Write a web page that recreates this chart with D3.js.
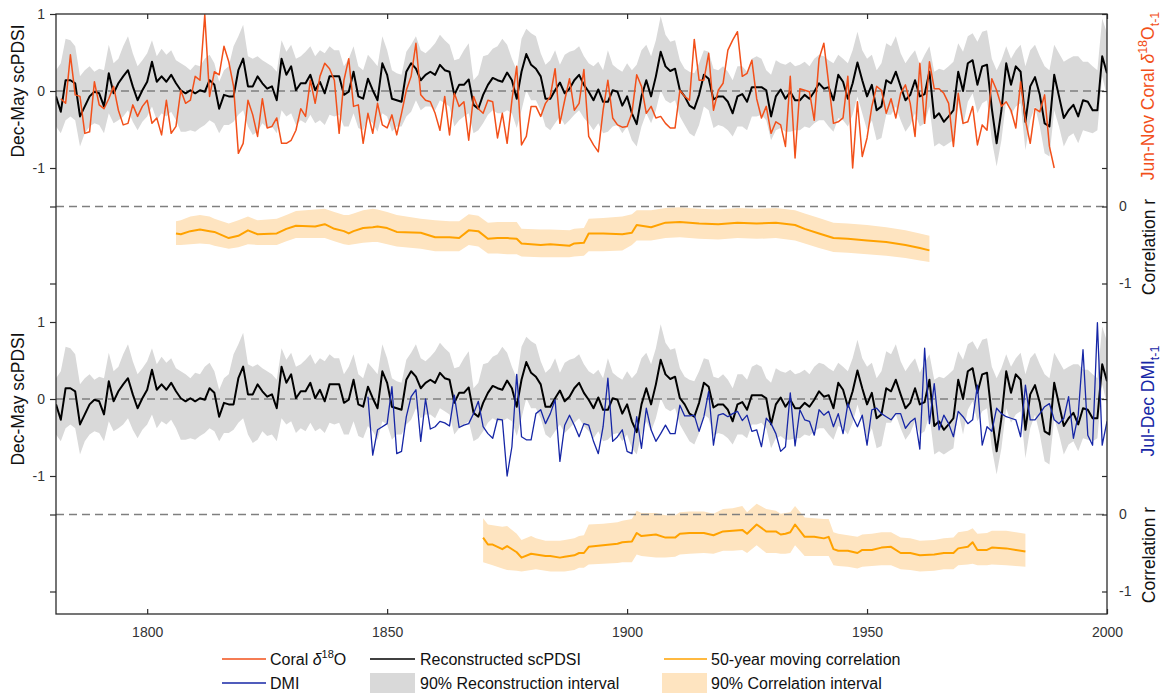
<!DOCTYPE html>
<html><head><meta charset="utf-8">
<script src="https://cdn.jsdelivr.net/npm/d3@7"></script>
<style>body{margin:0;background:#fff;} svg{display:block;font-family:'Liberation Sans',Arial,sans-serif;}</style>
</head><body><svg id="c" width="1164" height="695"></svg>
<script>
// ---------------- DATA ----------------
const scpdsiStart = 1781;
const scpdsi = [
-0.07,-0.27,0.14,0.14,0.10,-0.33,-0.20,-0.07,-0.01,-0.03,
-0.20,0.23,-0.03,0.10,0.19,0.27,0.06,-0.12,0.01,0.12,
0.38,0.12,0.19,0.12,0.21,0.10,0.01,-0.03,0.01,-0.03,
0.01,-0.01,0.14,0.08,-0.23,-0.05,-0.07,-0.07,0.27,0.42,
0.06,0.06,0.19,0.10,0.03,0.06,-0.12,0.42,0.21,0.32,
0.01,0.10,0.10,0.21,0.01,0.12,-0.03,0.19,0.19,0.19,
-0.05,-0.01,0.25,-0.07,-0.10,0.16,0.01,-0.12,0.36,0.21,
-0.10,-0.12,-0.14,0.25,0.36,0.29,0.14,0.21,0.25,0.21,
0.34,0.27,0.25,-0.05,0.08,0.08,0.15,-0.18,-0.23,-0.05,
0.08,0.17,0.14,0.12,0.24,0.14,-0.10,0.25,0.48,0.34,
0.29,0.19,-0.10,-0.10,0.01,0.11,-0.03,0.03,0.14,0.21,
0.08,-0.01,-0.12,0.02,-0.14,-0.14,0.01,-0.01,-0.19,-0.07,
-0.29,-0.43,-0.07,0.14,-0.07,0.19,0.51,0.32,0.26,0.29,
0.01,-0.07,-0.19,-0.23,-0.05,0.21,0.16,-0.11,-0.07,-0.07,
-0.14,-0.29,-0.07,-0.04,-0.14,0.05,0.05,0.05,0.01,-0.33,
-0.07,0.02,-0.10,-0.01,-0.12,-0.12,-0.05,-0.10,-0.01,0.10,
0.03,0.05,-0.12,0.21,0.12,-0.10,0.10,0.37,0.14,-0.07,
0.08,-0.25,-0.20,0.14,0.10,0.25,0.06,-0.12,-0.05,0.14,
-0.07,-0.04,0.25,-0.35,-0.29,-0.40,-0.33,-0.25,0.25,0.00,
0.36,0.40,0.08,0.32,0.34,-0.23,-0.68,-0.25,0.36,0.08,
0.32,0.25,-0.40,0.06,0.18,-0.05,-0.42,-0.46,0.21,-0.07,
-0.35,-0.25,-0.18,-0.33,-0.12,-0.14,-0.25,-0.25,0.45,0.23];
const reconUpper = [
0.27,0.36,0.68,0.66,0.58,0.19,0.27,0.32,0.25,0.29,
0.27,0.60,0.36,0.42,0.58,0.71,0.49,0.32,0.40,0.49,
0.66,0.45,0.55,0.47,0.53,0.40,0.36,0.32,0.27,0.34,
0.32,0.42,0.47,0.36,0.12,0.27,0.32,0.58,0.71,0.86,
0.45,0.42,0.45,0.40,0.36,0.32,0.25,0.66,0.51,0.60,
0.42,0.45,0.51,0.58,0.45,0.53,0.49,0.58,0.53,0.53,
0.32,0.42,0.58,0.32,0.27,0.47,0.40,0.32,0.71,0.53,
0.27,0.23,0.21,0.51,0.60,0.71,0.53,0.49,0.55,0.62,
0.73,0.66,0.60,0.40,0.42,0.53,0.62,0.14,0.21,0.45,
0.47,0.55,0.58,0.68,0.60,0.42,0.27,0.68,0.81,0.75,
0.71,0.49,0.34,0.40,0.53,0.34,0.47,0.51,0.53,0.58,
0.45,0.36,0.32,0.38,0.27,0.53,0.34,0.29,0.25,0.36,
0.27,0.34,0.53,0.60,0.45,0.66,0.97,0.73,0.64,0.66,
0.40,0.29,0.25,0.23,0.36,0.53,0.51,0.29,0.27,0.32,
0.25,0.14,0.32,0.32,0.25,0.42,0.45,0.42,0.27,0.21,
0.40,0.36,0.34,0.38,0.32,0.34,0.38,0.32,0.42,0.47,
0.45,0.40,0.36,0.47,0.42,0.36,0.53,0.77,0.53,0.42,
0.47,0.27,0.36,0.62,0.58,0.71,0.49,0.36,0.45,0.53,
0.34,0.47,0.58,0.25,0.29,0.27,0.32,0.38,0.62,0.51,
0.71,0.75,0.64,0.77,0.79,0.42,0.27,0.40,0.58,0.42,
0.53,0.60,0.32,0.53,0.60,0.45,0.32,0.27,0.60,0.49,
0.38,0.42,0.45,0.45,0.38,0.38,0.32,0.27,0.94,0.75];
const reconLower = [
-0.46,-0.55,-0.38,-0.33,-0.38,-0.72,-0.55,-0.46,-0.42,-0.44,
-0.55,-0.29,-0.42,-0.38,-0.33,-0.25,-0.40,-0.51,-0.40,-0.33,
-0.20,-0.38,-0.29,-0.33,-0.27,-0.38,-0.53,-0.53,-0.51,-0.53,
-0.48,-0.44,-0.38,-0.42,-0.55,-0.44,-0.44,-0.40,-0.31,-0.25,
-0.46,-0.57,-0.53,-0.42,-0.48,-0.46,-0.55,-0.25,-0.33,-0.29,
-0.44,-0.38,-0.42,-0.31,-0.42,-0.38,-0.44,-0.31,-0.33,-0.31,
-0.46,-0.46,-0.29,-0.48,-0.51,-0.35,-0.42,-0.53,-0.29,-0.33,
-0.53,-0.46,-0.46,-0.33,-0.27,-0.12,-0.25,-0.20,-0.20,-0.25,
-0.12,-0.16,-0.20,-0.46,-0.38,-0.33,-0.29,-0.55,-0.51,-0.42,
-0.31,-0.25,-0.29,-0.29,-0.25,-0.29,-0.48,-0.25,0.01,-0.12,
-0.12,-0.25,-0.46,-0.51,-0.42,-0.33,-0.44,-0.38,-0.31,-0.25,
-0.35,-0.42,-0.51,-0.42,-0.55,-0.53,-0.46,-0.44,-0.55,-0.46,
-0.64,-0.72,-0.46,-0.29,-0.42,-0.25,0.01,-0.12,-0.16,-0.12,
-0.33,-0.44,-0.55,-0.59,-0.44,-0.20,-0.25,-0.48,-0.44,-0.46,
-0.51,-0.59,-0.46,-0.46,-0.51,-0.33,-0.33,-0.31,-0.38,-0.64,
-0.51,-0.48,-0.53,-0.53,-0.51,-0.51,-0.46,-0.48,-0.42,-0.38,
-0.38,-0.46,-0.53,-0.35,-0.38,-0.46,-0.31,-0.07,-0.29,-0.51,
-0.38,-0.64,-0.61,-0.31,-0.31,-0.20,-0.38,-0.53,-0.44,-0.29,
-0.46,-0.42,-0.20,-0.72,-0.68,-0.72,-0.68,-0.64,-0.16,-0.46,
-0.14,-0.03,-0.29,-0.16,-0.12,-0.64,-0.98,-0.64,-0.12,-0.31,
-0.20,-0.16,-0.77,-0.38,-0.20,-0.46,-0.81,-0.85,-0.25,-0.46,
-0.72,-0.59,-0.55,-0.68,-0.51,-0.53,-0.55,-0.51,0.19,-0.07];
const coralStart = 1782;
const coral = [
-0.10,-0.16,0.47,-0.05,-0.07,-0.55,-0.53,0.12,-0.18,
-0.23,-0.10,0.06,-0.25,-0.44,-0.42,-0.18,-0.33,-0.20,-0.12,
-0.42,-0.35,-0.57,-0.12,-0.55,-0.46,0.01,-0.16,-0.12,0.19,
0.14,0.99,-0.07,0.25,0.21,0.58,0.38,0.06,-0.81,-0.68,
-0.12,-0.31,-0.59,-0.10,-0.48,-0.46,-0.35,-0.68,-0.68,-0.64,
-0.51,-0.23,-0.33,0.14,-0.16,0.19,0.36,0.29,0.14,-0.55,
0.14,0.42,-0.20,-0.18,-0.68,-0.29,-0.55,-0.16,-0.44,-0.48,
-0.31,-0.57,-0.29,0.01,0.19,0.62,-0.05,-0.12,-0.14,-0.29,
-0.51,-0.07,-0.57,-0.03,-0.20,-0.14,-0.64,-0.07,-0.23,-0.29,
-0.12,-0.14,-0.61,-0.29,-0.68,-0.12,0.32,-0.70,-0.59,-0.20,
-0.20,-0.33,-0.16,-0.07,0.29,-0.42,-0.12,0.16,-0.25,-0.16,
0.28,-0.59,-0.70,-0.79,-0.25,0.14,-0.35,-0.44,-0.47,-0.46,
-0.29,0.21,0.06,-0.29,-0.20,-0.35,-0.33,-0.42,-0.48,-0.48,
0.01,-0.07,-0.12,0.67,0.14,0.14,0.49,-0.25,0.01,0.10,
0.53,0.66,0.77,0.19,0.23,0.40,-0.10,-0.35,-0.20,-0.55,
-0.40,-0.44,-0.72,0.19,-0.87,0.03,0.01,-0.01,-0.38,0.42,
0.62,0.10,-0.42,-0.40,-0.35,0.19,-1.00,-0.14,-0.85,-0.61,
-0.20,0.06,0.01,-0.29,-0.10,-0.35,-0.03,0.08,-0.16,-0.59,
0.36,-0.42,0.38,0.03,0.03,-0.03,-0.16,-0.72,-0.03,-0.42,
-0.40,-0.20,-0.70,-0.44,-0.51,0.16,0.01,-0.20,-0.14,-0.25,
-0.48,0.12,-0.38,-0.68,-0.23,-0.27,-0.05,-0.72,-1.00];
const dmiStart = 1846;
const dmi = [
0.03,-0.73,-0.40,-0.36,-0.32,
0.16,-0.71,-0.68,-0.23,0.03,0.12,-0.55,0.00,-0.39,-0.36,
-0.29,-0.31,-0.35,0.05,-0.37,-0.34,-0.32,-0.19,-0.03,-0.36,
-0.45,-0.51,-0.26,-0.27,-1.00,-0.62,0.32,-0.49,-0.53,-0.53,
-0.19,-0.14,-0.32,-0.19,-0.01,-0.81,-0.34,-0.21,-0.34,-0.49,
-0.32,-0.34,-0.55,-0.71,-0.36,0.27,-0.55,-0.49,-0.40,-0.68,
-0.71,-0.23,-0.64,-0.12,-0.40,-0.55,-0.45,-0.34,-0.45,-0.45,
-0.08,-0.22,-0.22,-0.21,-0.42,-0.23,0.10,-0.60,-0.21,-0.19,
-0.23,-0.19,-0.16,-0.28,-0.21,-0.42,-0.40,-0.62,-0.25,-0.32,
-0.45,-0.68,-0.62,0.08,-0.61,-0.14,-0.27,-0.29,-0.47,-0.14,
-0.21,-0.16,-0.36,-0.19,-0.45,-0.06,-0.23,-0.36,-0.21,-0.60,
-0.14,-0.12,-0.19,-0.23,-0.27,-0.19,-0.19,-0.38,-0.30,-0.25,
-0.65,0.66,-0.32,0.20,-0.40,-0.21,-0.32,-0.49,-0.16,-0.23,
-0.32,-0.27,0.18,-0.60,-0.36,-0.42,-0.12,-0.19,-0.23,-0.25,
-0.27,-0.49,0.18,-0.27,-0.27,-0.19,-0.10,-0.06,-0.27,-0.32,
-0.25,0.03,-0.51,-0.21,0.64,-0.47,-0.60,0.99,-0.60,-0.29];
// 50-year moving correlation, coral vs scPDSI
const corrCoralYears = [1806,1807,1809,1811,1813,1814,1817,1819,1821,1823,1827,1829,1831,1835,1837,1839,1841,1842,1843,1845,1847,1848,1850,1852,1857,1860,1863,1865,1867,1869,1871,1873,1875,1877,1878,1882,1884,1888,1889,1891,1892,1895,1899,1901,1902,1905,1908,1911,1915,1919,1923,1927,1931,1935,1937,1940,1943,1946,1950,1954,1958,1961,1963];
const corrCoral = [-0.35,-0.36,-0.32,-0.30,-0.32,-0.33,-0.41,-0.38,-0.31,-0.36,-0.35,-0.29,-0.25,-0.26,-0.23,-0.29,-0.32,-0.35,-0.32,-0.28,-0.27,-0.26,-0.28,-0.33,-0.34,-0.40,-0.40,-0.41,-0.31,-0.32,-0.42,-0.41,-0.41,-0.42,-0.48,-0.50,-0.49,-0.51,-0.48,-0.47,-0.35,-0.35,-0.36,-0.34,-0.24,-0.27,-0.21,-0.20,-0.22,-0.23,-0.21,-0.22,-0.21,-0.24,-0.29,-0.35,-0.41,-0.42,-0.44,-0.46,-0.50,-0.54,-0.57];
const corrCoralHi = [-0.19,-0.18,-0.13,-0.11,-0.13,-0.16,-0.22,-0.18,-0.13,-0.18,-0.16,-0.11,-0.06,-0.04,-0.03,-0.07,-0.11,-0.11,-0.09,-0.05,-0.03,-0.04,-0.07,-0.11,-0.16,-0.18,-0.19,-0.19,-0.10,-0.12,-0.21,-0.20,-0.20,-0.20,-0.29,-0.30,-0.30,-0.31,-0.29,-0.28,-0.16,-0.15,-0.13,-0.10,-0.05,-0.05,-0.02,-0.01,-0.03,-0.04,-0.02,-0.03,-0.02,-0.05,-0.09,-0.15,-0.21,-0.22,-0.24,-0.27,-0.31,-0.35,-0.38];
const corrCoralLo = [-0.50,-0.50,-0.49,-0.48,-0.49,-0.51,-0.55,-0.53,-0.49,-0.50,-0.50,-0.45,-0.41,-0.41,-0.41,-0.45,-0.49,-0.50,-0.49,-0.47,-0.46,-0.46,-0.49,-0.52,-0.55,-0.58,-0.58,-0.58,-0.50,-0.52,-0.61,-0.61,-0.62,-0.62,-0.65,-0.66,-0.66,-0.66,-0.65,-0.64,-0.58,-0.58,-0.57,-0.50,-0.44,-0.44,-0.41,-0.40,-0.42,-0.43,-0.41,-0.42,-0.41,-0.44,-0.48,-0.54,-0.59,-0.60,-0.62,-0.64,-0.67,-0.70,-0.72];
// 50-year moving correlation, DMI vs scPDSI
const corrDmiYears = [1870,1871,1872,1874,1875,1877,1878,1880,1881,1883,1884,1886,1887,1889,1890,1891,1892,1895,1898,1899,1901,1902,1903,1906,1908,1910,1911,1913,1916,1918,1920,1922,1924,1925,1927,1929,1931,1932,1933,1934,1935,1937,1939,1941,1942,1943,1944,1946,1948,1949,1951,1953,1955,1957,1959,1961,1964,1966,1968,1969,1971,1972,1973,1975,1976,1979,1981,1983];
const corrDmi = [-0.30,-0.39,-0.39,-0.45,-0.41,-0.49,-0.56,-0.51,-0.52,-0.54,-0.54,-0.56,-0.55,-0.53,-0.50,-0.50,-0.42,-0.40,-0.38,-0.36,-0.35,-0.24,-0.28,-0.26,-0.30,-0.30,-0.25,-0.24,-0.24,-0.27,-0.22,-0.21,-0.20,-0.25,-0.13,-0.22,-0.22,-0.26,-0.25,-0.23,-0.13,-0.29,-0.29,-0.31,-0.29,-0.45,-0.47,-0.47,-0.50,-0.46,-0.46,-0.43,-0.42,-0.50,-0.50,-0.53,-0.52,-0.50,-0.50,-0.44,-0.42,-0.36,-0.46,-0.46,-0.43,-0.44,-0.46,-0.48];
const corrDmiHi = [-0.05,-0.13,-0.14,-0.16,-0.15,-0.25,-0.33,-0.28,-0.31,-0.34,-0.34,-0.34,-0.33,-0.31,-0.28,-0.27,-0.13,-0.12,-0.10,-0.08,-0.06,0.05,0.02,0.02,-0.01,-0.01,0.03,0.04,0.04,0.01,0.07,0.08,0.11,0.03,0.14,0.07,0.05,0.01,0.02,0.03,0.11,-0.04,-0.05,-0.06,-0.06,-0.23,-0.25,-0.27,-0.29,-0.26,-0.25,-0.23,-0.23,-0.30,-0.31,-0.34,-0.33,-0.31,-0.30,-0.23,-0.21,-0.18,-0.25,-0.24,-0.21,-0.21,-0.23,-0.25];
const corrDmiLo = [-0.62,-0.64,-0.66,-0.70,-0.72,-0.73,-0.74,-0.72,-0.71,-0.73,-0.74,-0.74,-0.74,-0.72,-0.69,-0.69,-0.65,-0.64,-0.63,-0.62,-0.62,-0.52,-0.54,-0.56,-0.56,-0.55,-0.52,-0.51,-0.50,-0.51,-0.47,-0.47,-0.46,-0.50,-0.40,-0.50,-0.50,-0.51,-0.51,-0.50,-0.40,-0.54,-0.54,-0.54,-0.54,-0.66,-0.67,-0.68,-0.70,-0.68,-0.67,-0.66,-0.66,-0.71,-0.72,-0.74,-0.73,-0.71,-0.71,-0.66,-0.65,-0.64,-0.66,-0.66,-0.65,-0.66,-0.67,-0.68];
const xTicks = [1800,1850,1900,1950,2000];
const pdsiTicks = [1,0,-1];
const corrTicks = [0,-1];

// ---------------- LAYOUT ----------------
const W = 1164, H = 695;
const L = 56, R = 1107, T = 14, B = 614, U = 77;
const COL = {coral:'#f2501a', dmi:'#1626a6', black:'#000', band:'#d9d9d9', corr:'#ffa200', corrBand:'#fee4c0', zero:'#7f7f7f', axis:'#2b2b2b', tick:'#333333'};
const FONT = "'Liberation Sans', Arial, sans-serif";

const svg = d3.select('#c');
const x = d3.scaleLinear().domain([1781, 2000]).range([L, R]);
const yTop = d3.scaleLinear().domain([-1, 1]).range([T + 2*U, T]);
const yCorrTop = d3.scaleLinear().domain([-1, 0]).range([T + 3.5*U, T + 2.5*U]);
const yBot = d3.scaleLinear().domain([-1, 1]).range([T + 6*U, T + 4*U]);
const yCorrBot = d3.scaleLinear().domain([-1, 0]).range([T + 7.5*U, T + 6.5*U]);

svg.append('defs').append('clipPath').attr('id','clip')
  .append('rect').attr('x', L).attr('y', T).attr('width', R-L).attr('height', B-T);
const plot = svg.append('g').attr('clip-path','url(#clip)');

const pdsiRows = scpdsi.map((v,i) => ({yr: scpdsiStart+i, v, hi: reconUpper[i], lo: reconLower[i]}));
const coralRows = coral.map((v,i) => ({yr: coralStart+i, v}));
const dmiRows = dmi.map((v,i) => ({yr: dmiStart+i, v}));
const ccRows = corrCoralYears.map((yr,i) => ({yr, v: corrCoral[i], hi: corrCoralHi[i], lo: corrCoralLo[i]}));
const cdRows = corrDmiYears.map((yr,i) => ({yr, v: corrDmi[i], hi: corrDmiHi[i], lo: corrDmiLo[i]}));

function band(rows, ys, fill){
  plot.append('path').datum(rows).attr('fill', fill).attr('stroke','none')
    .attr('d', d3.area().x(d=>x(d.yr)).y0(d=>ys(d.lo)).y1(d=>ys(d.hi)));
}
function line(rows, ys, color, w){
  plot.append('path').datum(rows).attr('fill','none').attr('stroke', color)
    .attr('stroke-width', w).attr('stroke-linejoin','round')
    .attr('d', d3.line().x(d=>x(d.yr)).y(d=>ys(d.v)));
}
function zero(ys){
  plot.append('line').attr('x1', L).attr('x2', R).attr('y1', ys(0)).attr('y2', ys(0))
    .attr('stroke', COL.zero).attr('stroke-width', 1.5).attr('stroke-dasharray','8,5');
}

band(pdsiRows, yTop, COL.band);
band(pdsiRows, yBot, COL.band);
band(ccRows, yCorrTop, COL.corrBand);
band(cdRows, yCorrBot, COL.corrBand);
[yTop, yCorrTop, yBot, yCorrBot].forEach(zero);
line(ccRows, yCorrTop, COL.corr, 2);
line(cdRows, yCorrBot, COL.corr, 2);
line(pdsiRows, yTop, COL.black, 2);
line(pdsiRows, yBot, COL.black, 2);
line(coralRows, yTop, COL.coral, 1.5);
line(dmiRows, yBot, COL.dmi, 1.3);

// ---------------- AXES ----------------
function styleAxis(g, fs){
  g.select('.domain').remove();
  g.attr('font-family', FONT).attr('font-size', fs);
  g.selectAll('line').attr('stroke', COL.axis).attr('stroke-width', 1.2);
  g.selectAll('text').attr('fill', COL.tick);
}
const fmt = d => String(d);
svg.append('g').attr('transform', `translate(0,${B})`)
  .call(d3.axisBottom(x).tickValues(xTicks).tickSize(-5).tickPadding(13).tickFormat(fmt))
  .call(g => styleAxis(g, 14));
svg.append('g').attr('transform', `translate(0,${T})`)
  .call(d3.axisTop(x).tickValues(xTicks).tickSize(-5).tickFormat(''))
  .call(g => styleAxis(g, 14));
[yTop, yBot].forEach(s => {
  svg.append('g').attr('transform', `translate(${L},0)`)
    .call(d3.axisLeft(s).tickValues(pdsiTicks).tickSize(6).tickPadding(5).tickFormat(fmt))
    .call(g => styleAxis(g, 14));
  svg.append('g').attr('transform', `translate(${R},0)`)
    .call(d3.axisRight(s).tickValues(pdsiTicks).tickSize(-5).tickFormat(''))
    .call(g => styleAxis(g, 14));
});
[yCorrTop, yCorrBot].forEach(s => {
  svg.append('g').attr('transform', `translate(${L},0)`)
    .call(d3.axisLeft(s).tickValues(corrTicks).tickSize(6).tickFormat(''))
    .call(g => styleAxis(g, 14));
  svg.append('g').attr('transform', `translate(${R},0)`)
    .call(d3.axisRight(s).tickValues(corrTicks).tickSize(-5).tickPadding(12).tickFormat(fmt))
    .call(g => styleAxis(g, 14));
});
svg.append('rect').attr('x', L).attr('y', T).attr('width', R-L).attr('height', B-T)
  .attr('fill','none').attr('stroke', COL.axis).attr('stroke-width', 1.3);

// ---------------- AXIS TITLES ----------------
function vlabel(xp, yp, color){
  return svg.append('text').attr('transform', `translate(${xp},${yp}) rotate(-90)`)
    .attr('text-anchor','middle').attr('font-family', FONT).attr('font-size', 17.5).attr('fill', color);
}
vlabel(24, yTop(0), '#111').text('Dec-May scPDSI');
vlabel(24, yBot(0), '#111').text('Dec-May scPDSI');
vlabel(1155, (yCorrTop(0)+yCorrTop(-1))/2 + 2, '#111').text('Correlation r');
vlabel(1155, (yCorrBot(0)+yCorrBot(-1))/2 + 2, '#111').text('Correlation r');
const cl = vlabel(1154, yTop(0) + 5, COL.coral);
cl.append('tspan').text('Jun-Nov Coral ');
cl.append('tspan').attr('font-style','italic').text('δ');
cl.append('tspan').attr('font-size', 12.5).attr('dy', -7).text('18');
cl.append('tspan').attr('dy', 7).text('O');
cl.append('tspan').attr('font-size', 12.5).attr('dy', 5).text('t-1');
const dl = vlabel(1154, yBot(0) + 2, COL.dmi);
dl.append('tspan').text('Jul-Dec DMI');
dl.append('tspan').attr('font-size', 12.5).attr('dy', 5).text('t-1');

// ---------------- LEGEND ----------------
const lg = svg.append('g').attr('font-family', FONT).attr('font-size', 16).attr('fill', '#111');
const r1 = 659, r2 = 683;
function lgLine(x1, x2, y, c){ lg.append('line').attr('x1',x1).attr('x2',x2).attr('y1',y).attr('y2',y).attr('stroke',c).attr('stroke-width',1.6); }
function lgRect(x1, x2, y, c){ lg.append('rect').attr('x',x1).attr('y',y-10).attr('width',x2-x1).attr('height',20).attr('fill',c); }
function lgText(x0, y){ return lg.append('text').attr('x', x0).attr('y', y + 5.5); }
lgLine(222, 266, r1, COL.coral);
const ct = lgText(270, r1); ct.append('tspan').text('Coral ');
ct.append('tspan').attr('font-style','italic').text('δ');
ct.append('tspan').attr('font-size', 11).attr('dy', -7).text('18');
ct.append('tspan').attr('dy', 7).text('O');
lgLine(370, 415, r1, COL.black);
lgText(420, r1).text('Reconstructed scPDSI');
lgLine(664, 707, r1, COL.corr);
lgText(711, r1).text('50-year moving correlation');
lgLine(222, 266, r2, COL.dmi);
lgText(270, r2).text('DMI');
lgRect(370, 415, r2, COL.band);
lgText(420, r2).text('90% Reconstruction interval');
lgRect(662, 707, r2, COL.corrBand);
lgText(711, r2).text('90% Correlation interval');
</script></body></html>
